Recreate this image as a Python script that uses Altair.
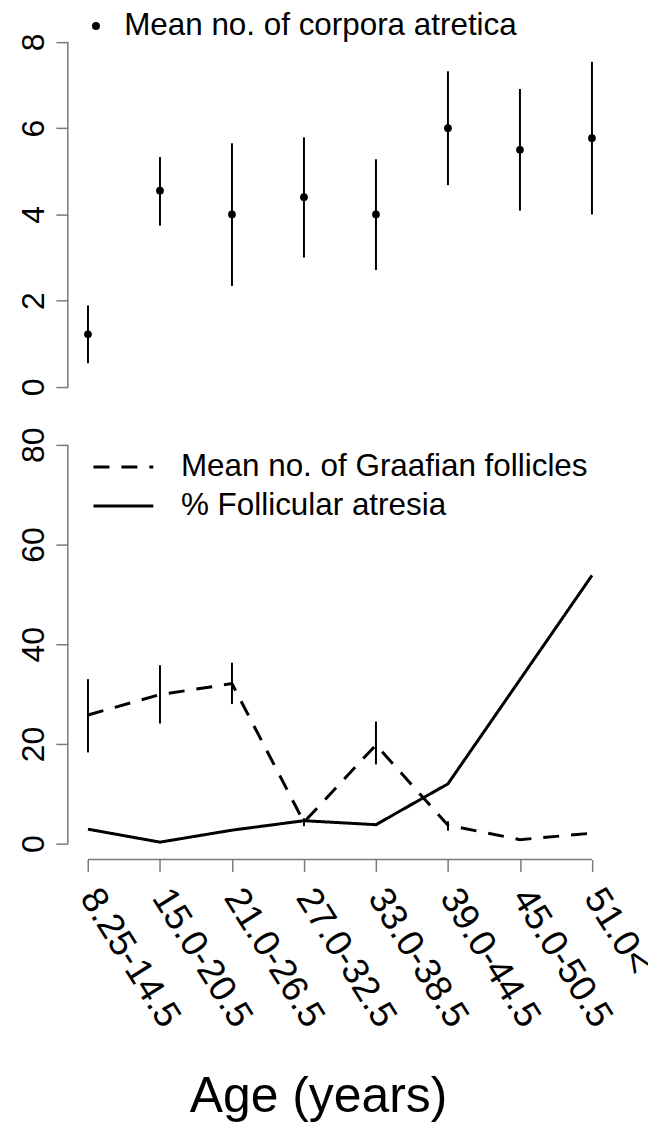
import altair as alt
import pandas as pd

# ---------------- data ----------------
ages = ["8.25-14.5", "15.0-20.5", "21.0-26.5", "27.0-32.5",
        "33.0-38.5", "39.0-44.5", "45.0-50.5", "51.0<"]

corpora_mean = [1.22, 4.55, 4.00, 4.40, 4.00, 6.00, 5.50, 5.77]
corpora_lo = [0.55, 3.74, 2.34, 3.00, 2.71, 4.68, 4.09, 4.00]
corpora_hi = [1.89, 5.33, 5.65, 5.79, 5.28, 7.32, 6.91, 7.54]

graaf_mean = [25.8, 29.9, 32.1, 4.3, 19.8, 3.7, 0.8, 2.1]
graaf_lo = [18.3, 24.1, 28.0, 3.5, 15.9, 2.6, None, None]
graaf_hi = [33.0, 35.8, 36.3, 5.1, 24.5, 4.5, None, None]

atresia_pct = [2.9, 0.3, 2.7, 4.6, 3.8, 12.0, 32.9, 53.8]

top_label = "Mean no. of corpora atretica"
graaf_label = "Mean no. of Graafian follicles"
atresia_label = "% Follicular atresia"

top_ticks = [0, 2, 4, 6, 8]
bottom_ticks = [0, 20, 40, 60, 80]
x_title = "Age (years)"

# ---------------- style ----------------
FONT = "Liberation Sans"
AX = "#7a7a7a"
W = 546

top_df = pd.DataFrame({"age": ages, "mean": corpora_mean,
                       "lo": corpora_lo, "hi": corpora_hi,
                       "series": top_label})
graaf_df = pd.DataFrame({"age": ages, "value": graaf_mean,
                         "lo": graaf_lo, "hi": graaf_hi})
lines_df = pd.concat([
    pd.DataFrame({"age": ages, "value": graaf_mean, "series": graaf_label}),
    pd.DataFrame({"age": ages, "value": atresia_pct, "series": atresia_label}),
], ignore_index=True)
one = pd.DataFrame({"k": [0]})

xscale = alt.Scale(type="point", domain=ages, padding=0.28)

top_pad = (top_ticks[-1] - top_ticks[0]) * 0.04
ytop = alt.Scale(domain=[top_ticks[0] - top_pad, top_ticks[-1] + top_pad],
                 nice=False, zero=False)
bot_pad = (bottom_ticks[-1] - bottom_ticks[0]) * 0.04
ybot = alt.Scale(domain=[bottom_ticks[0] - bot_pad, bottom_ticks[-1] + bot_pad],
                 nice=False, zero=False)


def yaxis(vals):
    return alt.Axis(values=vals, title=None, domain=False, grid=False,
                    labelAngle=-90, labelAlign="center",
                    labelBaseline="alphabetic", labelPadding=12,
                    tickSize=12, tickColor=AX, tickWidth=1.5,
                    labelFont=FONT, labelFontSize=32, labelColor="black",
                    labelOverlap=False)


# ---------------- top panel ----------------
top_err = alt.Chart(top_df).mark_rule(color="black", strokeWidth=2).encode(
    x=alt.X("age:N", scale=xscale, axis=None),
    y=alt.Y("lo:Q", scale=ytop, axis=yaxis(top_ticks)),
    y2="hi:Q",
)
top_pts = alt.Chart(top_df).mark_circle(size=60, opacity=1).encode(
    x=alt.X("age:N", scale=xscale, axis=None),
    y=alt.Y("mean:Q", scale=ytop),
    color=alt.Color("series:N", scale=alt.Scale(range=["black"]),
                    legend=alt.Legend(title=None, orient="none",
                                      legendX=12.5, legendY=-18,
                                      symbolType="circle", symbolSize=64,
                                      symbolFillColor="black",
                                      symbolStrokeWidth=0,
                                      labelFont=FONT, labelFontSize=31.5,
                                      labelColor="black", labelOffset=12.5,
                                      labelLimit=0, padding=0)),
)
top_axis_line = alt.Chart(one).mark_rule(color=AX, strokeWidth=1.5).encode(
    x=alt.value(0),
    y=alt.YDatum(top_ticks[0]),
    y2=alt.Y2Datum(top_ticks[-1]),
)
top = alt.layer(top_axis_line, top_err, top_pts).properties(width=W, height=373.7)

# ---------------- bottom panel ----------------
xaxis = alt.Axis(title=x_title, domain=False, grid=False,
                 labelAngle=58, labelAlign="left", labelBaseline="middle",
                 labelPadding=20, tickSize=12, tickColor=AX, tickWidth=1.5,
                 labelFont=FONT, labelFontSize=37, labelColor="black",
                 labelOverlap=False,
                 titleFont=FONT, titleFontSize=50, titleFontWeight="normal",
                 titleColor="black", titleX=251, titleY=253,
                 titleAlign="center", titleBaseline="alphabetic")

lines = alt.Chart(lines_df).mark_line(strokeWidth=3, color="black").encode(
    x=alt.X("age:N", scale=xscale, axis=xaxis),
    y=alt.Y("value:Q", scale=ybot, axis=yaxis(bottom_ticks)),
    strokeDash=alt.StrokeDash(
        "series:N",
        scale=alt.Scale(domain=[graaf_label, atresia_label],
                        range=[[16, 12], [1, 0]]),
        legend=alt.Legend(title=None, orient="none",
                          legendX=40, legendY=22.5,
                          symbolType="M-3,0H3", symbolSize=400,
                          symbolStrokeWidth=3, symbolStrokeColor="black",
                          labelFont=FONT, labelFontSize=31.5,
                          labelColor="black", labelOffset=42,
                          rowPadding=6, labelLimit=0, padding=0)),
)
bot_err = alt.Chart(graaf_df).transform_filter(
    "isValid(datum.lo)").mark_rule(color="black", strokeWidth=2).encode(
    x=alt.X("age:N", scale=xscale),
    y=alt.Y("lo:Q", scale=ybot),
    y2="hi:Q",
)
bot_yline = alt.Chart(one).mark_rule(color=AX, strokeWidth=1.5).encode(
    x=alt.value(0),
    y=alt.YDatum(bottom_ticks[0]),
    y2=alt.Y2Datum(bottom_ticks[-1]),
)
bot_xline = alt.Chart(one).mark_rule(color=AX, strokeWidth=1.5).encode(
    x=alt.XDatum(ages[0], type="nominal"),
    x2=alt.X2Datum(ages[-1]),
    y=alt.YDatum(bottom_ticks[0] - bot_pad),
)
bottom = alt.layer(bot_yline, bot_xline, bot_err, lines).properties(
    width=W, height=432)

chart = alt.vconcat(top, bottom, spacing=26).resolve_legend(
    color="independent", strokeDash="independent"
).properties(
    padding={"left": 9, "top": 0.5, "right": -10, "bottom": 0}
).configure(font=FONT).configure_view(stroke="transparent", strokeWidth=0)

chart.save("out.html", embed_options={"renderer": "svg", "actions": False})
